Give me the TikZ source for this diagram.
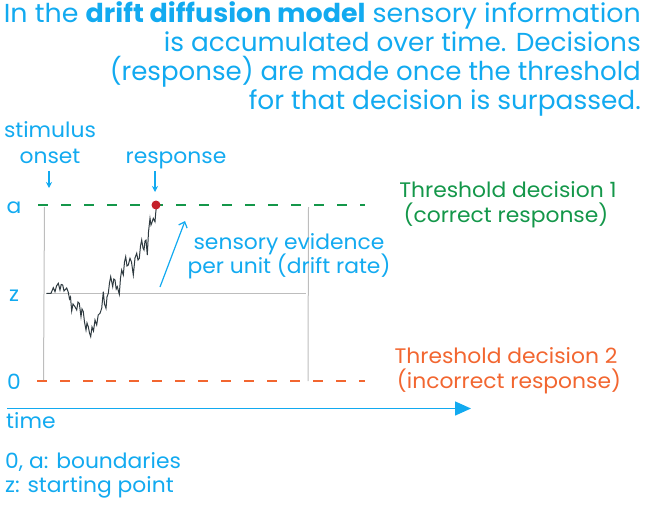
\documentclass[tikz,border=0pt]{standalone}
\usepackage{graphicx}
\usepackage{fontspec}
\setmainfont{Poppins}[FakeStretch=1.04]
\usetikzlibrary{arrows.meta}
\definecolor{ddblue}{HTML}{12AAF0}
\definecolor{ddgreen}{HTML}{14974A}
\definecolor{ddorange}{HTML}{F26630}
\definecolor{ddred}{HTML}{C4202A}
\definecolor{ddgray}{HTML}{BDBDBD}
\definecolor{ddwalk}{HTML}{2E3A40}
\newcommand{\fitw}[2]{\resizebox{#1}{\height}{#2}}
\tikzset{
  lbl/.style={text=ddblue, inner sep=0pt, font=\fontsize{21}{24}\selectfont},
  ttl/.style={text=ddblue, inner sep=0pt, anchor=base east, font=\fontsize{26}{29}\selectfont},
  thr/.style={inner sep=0pt, anchor=base, font=\fontsize{21}{24}\selectfont},
  guide/.style={draw=ddgray, line width=1pt},
  bound/.style={line width=1.6pt, dash pattern=on 10pt off 13pt},
  tick/.style={draw=ddblue, line width=1.2pt, -{Stealth[length=6pt,width=6pt]}},
}
\begin{document}
\begin{tikzpicture}[x=1pt,y=-1pt]
\useasboundingbox (0,0) rectangle (650,508);
% title
\node[ttl] (t1) at (641,23) {\fitw{637pt}{In the \textbf{drift diffusion model} sensory information}};
\node[ttl] (t2) at (641,52) {\fitw{477pt}{is accumulated over time. Decisions}};
\node[ttl] (t3) at (641,81) {\fitw{531pt}{(response) are made once the threshold}};
\node[ttl] (t4) at (641,110) {\fitw{392pt}{for that decision is surpassed.}};
% coordinates
\coordinate (aL) at (38,205);
\coordinate (aR) at (365,205);
\coordinate (oL) at (37,381);
\coordinate (oR) at (365,381);
\coordinate (v1t) at (44.5,207);
\coordinate (v1b) at (43.5,381);
\coordinate (v2t) at (308.5,207);
\coordinate (v2b) at (308,381);
\coordinate (zL) at (46,293.5);
\coordinate (zR) at (306,293.5);
% guide lines
\draw[guide] (v1t) -- (v1b);
\draw[guide] (v2t) -- (v2b);
\draw[guide] (zL) -- (zR);
% boundaries
\draw[bound, draw=ddgreen] (aL) -- (aR);
\draw[bound, draw=ddorange] (oL) -- (oR);
% axis labels
\node[lbl, anchor=base] (la) at (14,213) {a};
\node[lbl, anchor=base] (lz) at (14,301) {z};
\node[lbl, anchor=base] (l0) at (14,389) {0};
% walk
\draw[ddwalk, line width=1pt, line join=miter]
 (46.5,293.5) -- (51,293.3) -- (53.3,287.7) -- (55,291.7) -- (56.5,286) -- (58.3,283.3) -- (60,290) -- (61.2,284.5)
 -- (62.7,285) -- (64,291) -- (66.7,288) -- (68.3,292.3) -- (69.5,299) -- (70.5,297) -- (71.7,311) -- (73,304)
 -- (75,306.7) -- (76.7,310) -- (78,302) -- (79.3,303.3) -- (81,316.7) -- (82,309) -- (83.3,311.7) -- (84.5,322)
 -- (86,330) -- (87,323) -- (88.3,326.7) -- (89.5,333) -- (90.7,336.7) -- (92,327) -- (93.5,331) -- (95,320)
 -- (96.7,325) -- (98.2,315) -- (100,313.3) -- (101.7,308.3) -- (102.5,300) -- (103.3,291.7) -- (104.5,304) -- (106,308.3)
 -- (107,297) -- (108.3,293.3) -- (109.5,283) -- (110.7,276.7) -- (112.7,286.7) -- (113.8,279) -- (115,280) -- (116.2,289)
 -- (117.3,286.7) -- (119.3,294.3) -- (120.5,278) -- (121.7,270) -- (123.3,275) -- (124.5,262) -- (125.7,256.7) -- (127,266)
 -- (128.3,265) -- (130,258.3) -- (131.5,262) -- (133.3,275) -- (135,258) -- (136.7,253.3) -- (138,260) -- (139.3,258.3)
 -- (140.5,246) -- (141.7,240) -- (143,248) -- (144,250) -- (145,241) -- (146,240) -- (147.3,255) -- (148.5,232)
 -- (150,218.3) -- (151,225) -- (151.7,223.3) -- (153.3,218.3) -- (155,221.7) -- (155.8,212) -- (156.7,205);
\node[circle, fill=ddred, inner sep=0pt, minimum size=9pt] (resp) at (156,205) {};
% top labels
\node[lbl, anchor=base] (stim1) at (50,138) {stimulus};
\node[lbl, anchor=base] (stim2) at (50,163) {onset};
\node[lbl, anchor=base] (respl) at (176,163) {response};
\coordinate (sa1) at (49,171);
\coordinate (sa2) at (49,188);
\coordinate (ra1) at (155,171);
\coordinate (ra2) at (155,192);
\draw[tick] (sa1) -- (sa2);
\draw[tick] (ra1) -- (ra2);
% drift
\coordinate (d1) at (160,287);
\coordinate (d2) at (185,221);
\draw[ddblue, line width=1.2pt, -{Straight Barb[length=5pt,width=9pt]}] (d1) -- (d2);
\node[lbl, anchor=base] (ev1) at (289,249) {sensory evidence};
\node[lbl, anchor=base] (ev2) at (289,273) {per unit (drift rate)};
% thresholds
\node[thr, text=ddgreen] (th1a) at (508,197) {Threshold decision 1};
\node[thr, text=ddgreen] (th1b) at (506,222) {(correct response)};
\node[thr, text=ddorange] (th2a) at (506,363) {Threshold decision 2};
\node[thr, text=ddorange] (th2b) at (509,388) {(incorrect response)};
% time axis
\coordinate (ta1) at (7,408.5);
\coordinate (ta2) at (471,408.5);
\draw[ddblue, line width=1.5pt, -{Triangle[length=16pt,width=14pt]}] (ta1) -- (ta2);
\node[lbl, anchor=base west] (tl) at (6,428) {time};
% legend
\node[lbl, anchor=base west] (lg1) at (5,468) {0, a: boundaries};
\node[lbl, anchor=base west] (lg2) at (5,492) {z: starting point};
\end{tikzpicture}
\end{document}
